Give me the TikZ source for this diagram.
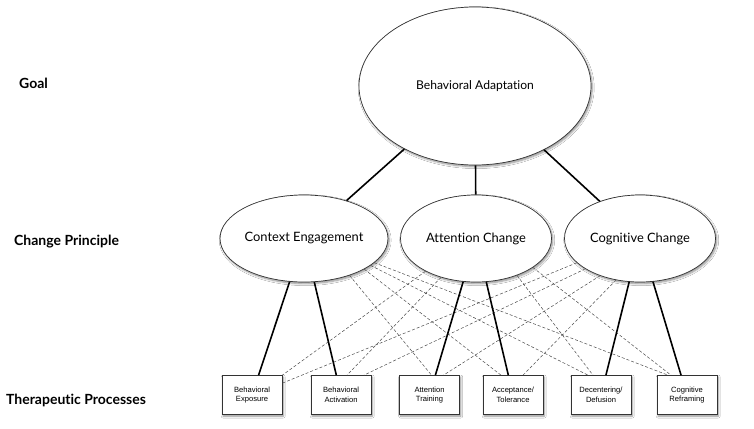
\documentclass[tikz,border=0pt]{standalone}
\usepackage{fontspec}
\setmainfont{Lato}[Ligatures=NoCommon]
\newfontfamily\boxfont{Liberation Sans}
\usetikzlibrary{shapes.geometric,shadows.blur}
\begin{document}
\begin{tikzpicture}[x=1pt,y=-1pt,
  shad/.style={blur shadow={shadow xshift=1.2pt,shadow yshift=-1.6pt,shadow blur radius=2pt,shadow blur steps=6,shadow opacity=45}},
  ell/.style={ellipse, draw=black!80, line width=0.7pt, fill=white, shad, inner sep=0pt},
  goalell/.style={ell, minimum width=232pt, minimum height=158pt, font=\fontsize{12.1}{14}\selectfont},
  princell/.style={ell, minimum width=151pt, minimum height=87pt, font=\fontsize{12.9}{15}\selectfont},
  proc/.style={rectangle, draw=black!80, line width=0.7pt, fill=white, shad,
    minimum width=60pt, minimum height=39pt, inner sep=1pt, align=center,
    font=\boxfont\fontsize{7.6}{9.6}\selectfont},
  strong/.style={line width=1.6pt, black},
  weak/.style={dash pattern=on 3pt off 2pt, line width=0.5pt, black!70},
  lab/.style={font=\bfseries\fontsize{14}{16}\selectfont, anchor=west, inner sep=0pt}]
\useasboundingbox (0,0) rectangle (754,428);
\fill[white] (0,0) rectangle (754,428);

% level labels
\node[lab] (lgoal) at (19,83) {Goal};
\node[lab] (lprinc) at (14,242) {Change Principle};
\node[lab] (lproc) at (6,400) {Therapeutic Processes};

% goal
\node[goalell] (ba) at (475,86) {Behavioral Adaptation};

% change principles
\node[princell] (ce) at (304,238.5) {Context Engagement};
\node[princell] (ac) at (476,238.5) {Attention Change};
\node[princell] (cc) at (640,238.5) {Cognitive Change};

% therapeutic processes
\node[proc] (p1) at (252,395) {Behavioral\\Exposure};
\node[proc] (p2) at (341,395) {Behavioral\\Activation};
\node[proc] (p3) at (429.5,395) {Attention\\Training};
\node[proc] (p4) at (513,395) {Acceptance/\\Tolerance};
\node[proc] (p5) at (601,395) {Decentering/\\Defusion};
\node[proc] (p6) at (687,395) {Cognitive\\Reframing};

% dashed cross links
\draw[weak] (ce.-39.6) -- ([xshift=2pt]p3.north);
\draw[weak] (ce.-27) -- ([xshift=-12pt]p4.north);
\draw[weak] (ce.-22) -- ([xshift=-13pt]p5.north);
\draw[weak] (ce.-19.5) -- ([xshift=-19pt]p6.north);
\draw[weak] (ac.213.7) -- (p1.north east);
\draw[weak] (ac.228) -- ([xshift=6pt]p2.north);
\draw[weak] (ac.-42.8) -- ([xshift=-8pt]p5.north);
\draw[weak] (ac.-27) -- ([xshift=-16pt]p6.north);
\draw[weak] (cc.201.4) -- ([yshift=-8pt]p1.north east);
\draw[weak] (cc.209) -- ([xshift=23pt]p2.north);
\draw[weak] (cc.223.6) -- ([xshift=14pt]p3.north);
\draw[weak] (cc.240.8) -- ([xshift=10pt]p4.north);

% solid links
\draw[strong] (ba) -- (ce);
\draw[strong] (ba) -- (ac);
\draw[strong] (ba) -- (cc);
\draw[strong] (ce) -- (p1);
\draw[strong] (ce) -- (p2);
\draw[strong] (ac) -- (p3);
\draw[strong] (ac) -- (p4);
\draw[strong] (cc) -- (p5);
\draw[strong] (cc) -- (p6);
\end{tikzpicture}
\end{document}
